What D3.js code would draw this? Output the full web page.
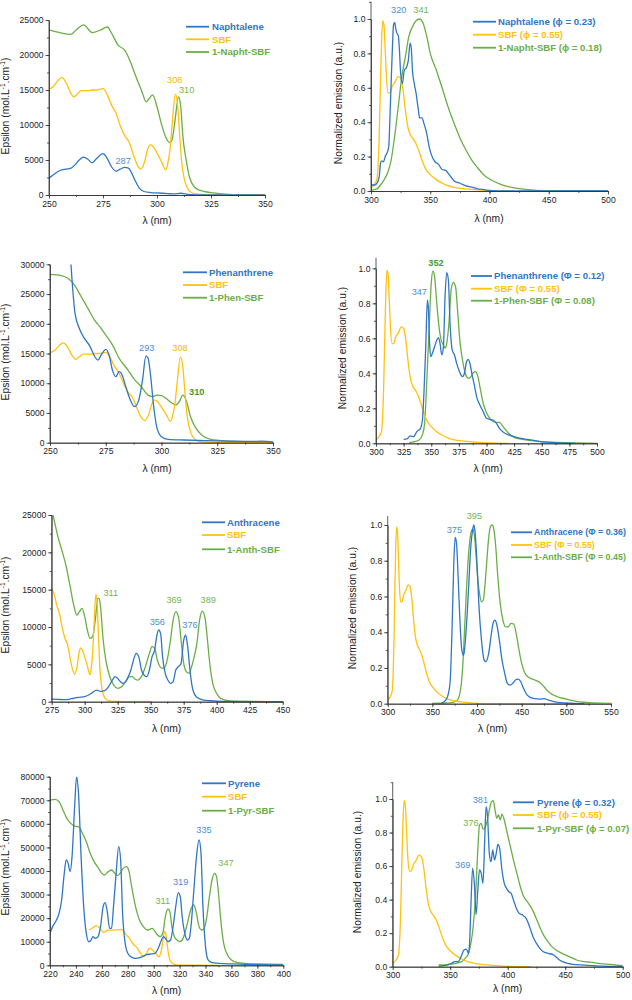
<!DOCTYPE html>
<html>
<head>
<meta charset="utf-8">
<script src="https://cdn.jsdelivr.net/npm/d3@7"></script>
<style>
  body { margin: 0; background: #fff; }
  svg { display: block; font-family: "Liberation Sans", Arial, sans-serif; }
  .tick text { font-size: 8.6px; fill: #222; }
  .tick line, .domain { stroke: #333; stroke-width: 0.8; }
</style>
</head>
<body>
<svg width="632" height="1000"></svg>
<script>
const BLUE = "#2f77c6", YELLOW = "#ffc20e", GREEN = "#6aae47", DKGREEN = "#3f9a2a";

// ---- absorption (epsilon) and normalized emission, [lambda nm, value] ----
const sbfAbs = [[250,15100],[252,15500],[254,16300],[256,16800],[258,16000],[260,14600],[261.5,14000],[263,14400],[265,14900],[268,14900],[270,15000],[272,15000],[275,15200],[277,14300],[279,12800],[281,11700],[283,9900],[285,8500],[287,7600],[289,5800],[291,4200],[292.5,3700],[294,4500],[296,6800],[297,7200],[298.5,6800],[300,6000],[302,4800],[304,3600],[305,4500],[306,6500],[307,10000],[308.5,14400],[309.5,13000],[310.5,8500],[311.5,4500],[312.5,2500],[314,1000],[316,350],[318,150],[320,80],[330,20],[350,0]];
const sbfEm = [[300,0.02],[303,0.04],[305,0.07],[306,0.15],[307,0.34],[308,0.63],[309,0.88],[310,0.99],[311,0.96],[312,0.82],[313,0.67],[314.5,0.57],[316,0.57],[318,0.61],[320,0.63],[323,0.665],[325,0.655],[327,0.59],[329,0.47],[331,0.375],[333,0.33],[336,0.30],[338,0.275],[340,0.24],[343,0.18],[346,0.13],[350,0.095],[355,0.066],[360,0.046],[365,0.031],[370,0.021],[380,0.012],[390,0.006],[400,0.002],[420,0],[550,0]];

const naphAbs = [[250,2400],[252,2900],[255,3500],[258,3700],[260,3800],[262,4300],[264,5000],[266,5400],[268,5100],[270,4600],[272,5200],[275,5900],[277,5200],[279,4000],[281,3400],[283,3700],[285,3950],[287,3800],[288,3300],[290,2000],[292,900],[294,500],[297,350],[300,300],[305,200],[308,150],[311,250],[313,150],[316,50],[320,0],[350,0]];
const naphSbfAbs = [[250,23600],[255,23200],[260,22950],[263,23700],[266,24300],[270,23200],[274,23600],[277,24000],[279,23100],[282,21400],[285,20700],[288,18800],[290,17100],[293,14800],[295,13300],[296,13600],[298,14300],[300,12600],[302,10200],[304,8300],[306,7500],[307,7900],[308,9800],[310,14000],[311,12600],[312,8300],[313.5,5000],[315,2600],[318,950],[322,500],[325,330],[330,150],[340,0],[350,0]];
const naphEm = [[300,0.035],[303,0.035],[305,0.045],[307,0.085],[308,0.16],[309,0.175],[310.5,0.17],[312,0.2],[314,0.23],[315,0.26],[316,0.43],[317,0.63],[318,0.82],[319,0.965],[320,0.98],[321,0.94],[322,0.915],[323,0.905],[324,0.82],[325,0.685],[326.5,0.625],[328,0.70],[330,0.72],[331.5,0.76],[333,0.86],[334,0.83],[335,0.70],[336.5,0.625],[338,0.57],[340,0.47],[341,0.425],[343,0.425],[345,0.385],[347,0.335],[349,0.26],[351,0.21],[354,0.17],[357,0.155],[360,0.125],[363,0.12],[366,0.095],[370,0.06],[375,0.045],[380,0.03],[385,0.023],[390,0.013],[395,0.008],[400,0.004],[410,0],[500,0]];
const naphSbfEm = [[300,0.004],[305,0.012],[308,0.035],[311,0.065],[314,0.105],[317,0.18],[320,0.32],[323,0.49],[326,0.665],[329,0.78],[332,0.9],[335,0.955],[338,0.99],[341,1.0],[344,0.975],[347,0.9],[350,0.80],[355,0.705],[360,0.60],[365,0.49],[370,0.395],[375,0.31],[380,0.24],[385,0.18],[390,0.135],[395,0.095],[400,0.07],[410,0.037],[420,0.019],[430,0.01],[440,0.004],[450,0.002],[500,0]];

const phenAbs = [[259.4,30000],[261.2,21800],[263.4,19000],[265,17800],[268,16150],[270,14500],[271.5,13900],[273,14750],[275,15700],[276.5,14750],[278,12200],[279.5,11100],[281,11950],[282,11650],[284,9400],[286,7200],[288,6050],[290,7450],[291.5,10550],[293,14600],[294,14200],[295,11650],[296.5,6050],[298,2400],[300,1000],[303,560],[310,450],[320,340],[330,280],[340,220],[345,250],[350,100]];
const phenSbfAbs = [[250,28300],[255,28100],[258,27650],[261,26500],[264,24550],[267,22600],[270,20600],[273,19200],[275,18100],[278,16450],[281,14200],[285,12200],[288,10550],[291,9400],[294,8000],[296,7750],[298,8000],[300,7900],[302,7450],[305,6600],[306.5,6350],[308,6900],[309.5,8000],[311,7200],[313,4400],[315,2700],[318,1300],[322,560],[330,280],[340,170],[350,100]];
const phenEm = [[325,0.023],[328,0.025],[331,0.042],[334,0.038],[337,0.067],[340,0.082],[342,0.133],[343.5,0.305],[345,0.55],[346.5,0.82],[347.5,0.76],[348.5,0.57],[349.5,0.495],[351,0.514],[353,0.552],[355,0.59],[356.5,0.604],[358,0.57],[359.5,0.505],[361,0.552],[362.5,0.838],[364,0.975],[365.5,0.933],[367,0.686],[369,0.533],[371,0.505],[373,0.457],[375,0.419],[377,0.39],[378.5,0.381],[380,0.40],[382,0.467],[383.5,0.48],[385,0.457],[387,0.39],[389,0.333],[391,0.267],[394,0.219],[397,0.181],[400,0.143],[403,0.137],[406,0.133],[409,0.114],[412,0.082],[415,0.065],[420,0.048],[425,0.038],[430,0.029],[440,0.019],[450,0.008],[460,0.004],[480,0]];
const phenSbfEm = [[330,0.004],[335,0.01],[339,0.019],[342,0.048],[344,0.114],[346,0.362],[348,0.648],[350,0.914],[351.5,0.985],[353,0.952],[355,0.80],[357,0.667],[359,0.59],[361,0.562],[362.5,0.543],[364,0.571],[366,0.686],[368,0.876],[370,0.92],[372,0.895],[374,0.743],[376,0.581],[378,0.486],[380,0.419],[382,0.381],[384,0.371],[386,0.381],[388,0.404],[390,0.41],[392,0.387],[394,0.324],[397,0.229],[400,0.175],[403,0.143],[406,0.124],[409,0.12],[412,0.118],[415,0.095],[420,0.057],[425,0.034],[430,0.025],[440,0.015],[450,0.01],[460,0.006],[480,0.002],[500,0]];

const anthAbs = [[275,360],[280,310],[285,270],[290,400],[295,580],[300,670],[303,890],[306,1250],[309,1560],[312,1380],[315,1470],[318,2000],[321,2900],[323,3350],[325,3100],[327,2700],[329,2450],[331,2700],[333,3350],[335,4250],[337,5600],[339,6470],[341,6000],[343,4250],[345,3570],[347,3350],[349,4250],[351,6000],[353,6900],[354.5,8700],[356,9600],[357.5,9150],[359,6000],[361,3800],[363,2900],[365,2450],[367,2700],[369,4250],[371,4700],[373,5130],[375,8260],[376.5,8900],[378,7370],[380,3800],[382,1560],[385,580],[390,220],[395,130],[400,90],[410,40],[450,0]];
const anthSbfAbs = [[276,25000],[278,23400],[280,21900],[283,20100],[286,18100],[289,15400],[292,12700],[294,11600],[296,12050],[298,12500],[300,11400],[302,9600],[304,8480],[306,8700],[308,10900],[310,13840],[311,13840],[312,12700],[314,8260],[316,5580],[319,3350],[322,2230],[325,1790],[328,2000],[331,2700],[334,3350],[336,3350],[338,3040],[340,2900],[343,3350],[346,4700],[349,6470],[351,7370],[353,7140],[355,5580],[357,4700],[359,4460],[361,4700],[363,6030],[365,8260],[367,10900],[369,12050],[371,11400],[373,8260],[375,5130],[377,4020],[379,3800],[381,4700],[383,6030],[385,7800],[387,10900],[389,12140],[391,11400],[393,8260],[395,4700],[397,2450],[400,1100],[403,450],[407,220],[412,90],[450,0]];
const anthEm = [[360,0.002],[365,0.02],[368,0.058],[370,0.13],[372,0.41],[374,0.785],[375.5,0.93],[377,0.90],[379,0.69],[381,0.45],[383,0.30],[385,0.27],[387,0.356],[389,0.505],[391,0.69],[393,0.877],[395,0.97],[396.5,1.0],[398,0.95],[400,0.785],[402,0.56],[405,0.356],[408,0.244],[410,0.235],[413,0.28],[416,0.39],[418,0.45],[420,0.468],[422,0.446],[425,0.356],[428,0.244],[431,0.17],[434,0.114],[437,0.104],[440,0.114],[443,0.132],[446,0.138],[449,0.123],[452,0.086],[456,0.049],[460,0.034],[465,0.028],[470,0.026],[475,0.028],[480,0.02],[485,0.013],[490,0.008],[500,0.004],[520,0]];
const anthSbfEm = [[350,0.002],[365,0.004],[372,0.006],[378,0.02],[382,0.095],[384,0.207],[386,0.41],[388,0.62],[390,0.80],[392,0.916],[394,0.97],[395.5,0.978],[397,0.944],[399,0.823],[401,0.69],[403,0.61],[405,0.57],[407,0.58],[409,0.67],[411,0.80],[413,0.925],[415,0.99],[417,1.0],[419,0.97],[421,0.877],[423,0.73],[426,0.56],[429,0.468],[432,0.43],[435,0.43],[438,0.45],[441,0.446],[444,0.39],[447,0.30],[450,0.226],[455,0.16],[460,0.142],[465,0.132],[470,0.12],[475,0.095],[480,0.067],[490,0.039],[500,0.026],[510,0.015],[520,0.008],[530,0.004],[550,0.002]];

const pyrAbs = [[220,13570],[222,16400],[225,19200],[227,22050],[229,27700],[231,39000],[232.5,44700],[234,43250],[235.5,39700],[237,46000],[239,67150],[240.5,80000],[242,72900],[244,46000],[246,24900],[248,13570],[250,10000],[252,11000],[253,12150],[255,11450],[257,12150],[259,16400],[261,24900],[262.5,26570],[264,23460],[266,15700],[267.5,15700],[269,24900],[271,39000],[273,50300],[274.5,44660],[276,22050],[278,9330],[280,5090],[283,3390],[286,2970],[290,3390],[294,4380],[298,4800],[301,5090],[304,7900],[306,10740],[307.5,12150],[309,11450],[311,10040],[313,10740],[315,16400],[317,24900],[319,30800],[320.5,29100],[322,20600],[324,13570],[326,10740],[327.5,11450],[329,17800],[331,31940],[333,46000],[335,53140],[336.5,47500],[338,24900],[340,7900],[342,2260],[345,1130],[350,850],[360,570],[370,420],[380,280],[400,140]];
const pyrSbfAbs = [[220,70100],[224,70400],[227,69400],[230,65900],[233,62330],[236,60200],[239,59080],[242,58800],[245,56000],[248,52440],[251,47500],[254,43960],[257,41550],[260,39000],[262,38300],[265,39720],[267.5,40420],[270,39000],[272,38020],[274,39000],[276.5,41130],[279,41840],[281,39720],[283,33360],[286,24880],[289,19220],[292,16400],[295,14980],[297,15270],[299,15690],[301,14280],[303,12860],[305,12150],[307,13570],[309,20640],[311,23890],[312.5,22760],[314,16400],[316,12150],[318,10740],[320,10040],[322,10740],[324,13570],[326,17800],[328.5,23460],[331,25580],[333,22050],[335,16400],[337,14980],[339,15690],[341,20640],[343,29120],[345,36180],[347,39000],[348.5,37600],[350,30530],[352,17810],[354,9330],[357,4380],[360,2260],[365,1130],[370,850],[380,565],[400,420]];
const pyrEm = [[340,0.004],[345,0.006],[350,0.016],[354,0.03],[357,0.03],[360,0.07],[362,0.1],[364,0.105],[366,0.08],[367,0.16],[368,0.36],[369.5,0.587],[371,0.497],[372.5,0.31],[374,0.457],[375.5,0.577],[377,0.557],[378.5,0.497],[380,0.755],[381.2,0.954],[382.5,0.895],[384,0.676],[385.5,0.626],[387,0.696],[388.5,0.636],[390,0.676],[391.5,0.73],[393,0.706],[395,0.577],[397,0.497],[399,0.467],[401,0.447],[403,0.437],[405,0.398],[407,0.358],[410,0.318],[413,0.308],[416,0.288],[419,0.239],[422,0.179],[425,0.139],[428,0.109],[431,0.089],[435,0.08],[440,0.07],[445,0.04],[450,0.024],[455,0.016],[460,0.012],[470,0.008],[480,0.004],[500,0.002]];
const pyrSbfEm = [[340,0.01],[345,0.01],[350,0.016],[355,0.02],[360,0.03],[363,0.05],[366,0.08],[368,0.14],[370,0.24],[372,0.417],[374,0.696],[375.5,0.845],[377,0.855],[378.5,0.82],[380,0.825],[382,0.865],[384,0.934],[386,0.984],[387.5,0.99],[389,0.934],[390.5,0.885],[392,0.905],[393.5,0.875],[395,0.91],[397,0.875],[399,0.815],[401,0.755],[403,0.696],[405,0.636],[408,0.557],[411,0.477],[414,0.417],[417,0.388],[420,0.358],[423,0.318],[426,0.268],[429,0.219],[432,0.179],[435,0.149],[438,0.123],[442,0.1],[446,0.084],[450,0.07],[455,0.056],[460,0.04],[465,0.032],[470,0.028],[475,0.024],[480,0.018],[490,0.014],[495,0.01],[500,0.006]];

const naphLegend = ["Naphtalene", "SBF", "1-Napht-SBF"];
const naphEmLegend = ["Naphtalene (\u03D5 = 0.23)", "SBF (\u03D5 = 0.55)", "1-Napht-SBF (\u03D5 = 0.18)"];
const phenLegend = ["Phenanthrene", "SBF", "1-Phen-SBF"];
const phenEmLegend = ["Phenanthrene (\u03A6 = 0.12)", "SBF (\u03A6 = 0.55)", "1-Phen-SBF (\u03A6 = 0.08)"];
const anthLegend = ["Anthracene", "SBF", "1-Anth-SBF"];
const anthEmLegend = ["Anthracene (\u03A6 = 0.36)", "SBF (\u03A6 = 0.55)", "1-Anth-SBF (\u03A6 = 0.45)"];
const pyrLegend = ["Pyrene", "SBF", "1-Pyr-SBF"];
const pyrEmLegend = ["Pyrene (\u03D5 = 0.32)", "SBF (\u03D5 = 0.55)", "1-Pyr-SBF (\u03D5 = 0.07)"];

const svg = d3.select("svg");
const colors = [BLUE, YELLOW, GREEN];

function drawPanel(p) {
  const x = d3.scaleLinear().domain(p.xDomain).range(p.xRange);
  const y = d3.scaleLinear().domain([0, p.yRef]).range(p.yRange);
  const yTop = y(p.yMax);
  const g = svg.append("g");

  const clipId = "clip" + Math.round(p.xRange[0]) + "_" + Math.round(p.yRange[0]);
  g.append("clipPath").attr("id", clipId).append("rect")
    .attr("x", p.xRange[0]).attr("y", yTop)
    .attr("width", p.xRange[1] - p.xRange[0]).attr("height", p.yRange[0] - yTop + 1);

  const line = d3.line().x(d => x(d[0])).y(d => y(d[1])).curve(d3.curveMonotoneX);
  const curves = g.append("g").attr("clip-path", `url(#${clipId})`);
  // draw green, yellow, blue
  [2, 1, 0].forEach(i => {
    const data = p.series[i].filter(d => d[0] >= p.xDomain[0] - 2 && d[0] <= p.xDomain[1] + 2);
    curves.append("path").datum(data)
      .attr("fill", "none").attr("stroke", colors[i]).attr("stroke-width", 1.3)
      .attr("stroke-linejoin", "round").attr("d", line);
  });

  // minor ticks
  const xMinor = d3.range(p.xDomain[0], p.xDomain[1] + 0.001, p.xMinor);
  const yMinor = d3.range(0, p.yMax + 1e-6, p.yMinor);
  g.append("g").attr("transform", `translate(0,${p.yRange[0]})`)
    .call(d3.axisBottom(x).tickValues(xMinor).tickSize(2).tickSizeOuter(0).tickFormat(""));
  g.append("g").attr("transform", `translate(${p.xRange[0]},0)`)
    .call(d3.axisLeft(y).tickValues(yMinor).tickSize(2).tickSizeOuter(0).tickFormat(""));
  // major ticks
  g.append("g").attr("transform", `translate(0,${p.yRange[0]})`)
    .call(d3.axisBottom(x).tickValues(d3.range(p.xDomain[0], p.xDomain[1] + 0.001, p.xMajor))
      .tickSize(3.5).tickSizeOuter(0).tickPadding(2).tickFormat(d3.format("d")));
  const yAx = d3.axisLeft(y).tickValues(d3.range(0, p.yRef + 1e-6, p.yMajor))
      .tickSize(3.5).tickSizeOuter(0).tickPadding(2).tickFormat(d3.format(p.yFmt));
  const ya = g.append("g").attr("transform", `translate(${p.xRange[0]},0)`).call(yAx);
  ya.select(".domain").attr("d", `M-0,${p.yRange[0]}V${yTop}`);

  // axis titles
  g.append("text").attr("x", p.xTitle[0]).attr("y", p.xTitle[1])
    .attr("text-anchor", "middle").attr("font-size", 10.3).attr("fill", "#222")
    .text(p.xTitleText);
  const yt = g.append("text")
    .attr("transform", `translate(${p.yTitle[0]},${p.yTitle[1]}) rotate(-90)`)
    .attr("text-anchor", "middle").attr("font-size", 10.3).attr("fill", "#222");
  if (p.epsilon) {
    yt.append("tspan").text("Epsilon (mol.L");
    yt.append("tspan").attr("dy", -4).attr("font-size", 6.5).text("-1");
    yt.append("tspan").attr("dy", 4).text(".cm");
    yt.append("tspan").attr("dy", -4).attr("font-size", 6.5).text("-1");
    yt.append("tspan").attr("dy", 4).text(")");
  } else {
    yt.text("Normalized emission (a.u.)");
  }

  // legend
  p.legend.forEach((lab, i) => {
    const ly = p.legendPos.ys[i];
    g.append("line").attr("x1", p.legendPos.x1).attr("x2", p.legendPos.x2)
      .attr("y1", ly).attr("y2", ly).attr("stroke", colors[i]).attr("stroke-width", 1.8);
    g.append("text").attr("x", p.legendPos.tx).attr("y", ly).attr("dy", "0.35em")
      .attr("font-size", p.legendPos.fs || 9.6).attr("font-weight", "bold")
      .attr("fill", colors[i]).text(lab);
  });

  // peak labels (data coordinates)
  p.notes.forEach(n => {
    g.append("text").attr("x", x(n.at[0])).attr("y", y(n.at[1])).attr("dy", "0.35em")
      .attr("text-anchor", "middle").attr("font-size", 9.2)
      .attr("font-weight", n.bold ? "bold" : "normal").attr("fill", n.color).text(n.text);
  });
}

const LBLUE = "#4a8fd6", LYELLOW = "#f5b800", LGREEN = "#74b552";

const panels = [
  { xDomain: [250, 350], xRange: [49, 265], xMajor: 25, xMinor: 12.5,
    yRef: 25000, yRange: [195, 20], yMax: 25000, yMajor: 5000, yMinor: 2500, yFmt: "d",
    epsilon: true, yTitle: [9, 106], xTitle: [157, 223.5], xTitleText: "\u03BB (nm)",
    series: [naphAbs, sbfAbs, naphSbfAbs], legend: naphLegend,
    legendPos: { x1: 186, x2: 209, tx: 212, ys: [26.7, 39.3, 52] },
    notes: [{ text: "287", at: [284.3, 4860], color: LBLUE },
            { text: "308", at: [308.2, 16430], color: LYELLOW },
            { text: "310", at: [313.7, 15000], color: LGREEN }] },
  { xDomain: [300, 500], xRange: [371, 608], xMajor: 50, xMinor: 25,
    yRef: 1, yRange: [191, 19], yMax: 1.1, yMajor: 0.2, yMinor: 0.1, yFmt: ".1f",
    epsilon: false, yTitle: [342, 103], xTitle: [489, 221.5], xTitleText: "\u03BB (nm)",
    series: [naphEm, sbfEm, naphSbfEm], legend: naphEmLegend,
    legendPos: { x1: 473, x2: 496, tx: 498, ys: [21.7, 34.7, 47.7] },
    notes: [{ text: "320", at: [323.4, 1.052], color: LBLUE },
            { text: "341", at: [342.2, 1.052], color: LGREEN }] },
  { xDomain: [250, 350], xRange: [50, 273], xMajor: 25, xMinor: 12.5,
    yRef: 30000, yRange: [442.7, 264.3], yMax: 30000, yMajor: 5000, yMinor: 2500, yFmt: "d",
    epsilon: true, yTitle: [9, 352], xTitle: [157, 472], xTitleText: "\u03BB (nm)",
    series: [phenAbs, sbfAbs, phenSbfAbs], legend: phenLegend,
    legendPos: { x1: 183, x2: 207, tx: 209, ys: [272.3, 285, 297.7] },
    notes: [{ text: "293", at: [293.4, 15975], color: LBLUE },
            { text: "308", at: [308.3, 15975], color: LYELLOW },
            { text: "310", at: [315.8, 8576], color: DKGREEN, bold: true }] },
  { xDomain: [300, 500], xRange: [376, 597], xMajor: 25, xMinor: 12.5,
    yRef: 1, yRange: [443.3, 268.3], yMax: 1.06, yMajor: 0.2, yMinor: 0.1, yFmt: ".1f",
    epsilon: false, yTitle: [346, 348], xTitle: [488, 472], xTitleText: "\u03BB (nm)",
    series: [phenEm, sbfEm, phenSbfEm], legend: phenEmLegend,
    legendPos: { x1: 471, x2: 492, tx: 494, ys: [276, 288.7, 300.7] },
    notes: [{ text: "347", at: [339.2, 0.866], color: LBLUE },
            { text: "352", at: [354.3, 1.029], color: DKGREEN, bold: true }] },
  { xDomain: [275, 450], xRange: [51.7, 282.7], xMajor: 25, xMinor: 12.5,
    yRef: 25000, yRange: [701.7, 515], yMax: 25000, yMajor: 5000, yMinor: 2500, yFmt: "d",
    epsilon: true, yTitle: [9, 605], xTitle: [166.7, 731.5], xTitleText: "\u03BB  (nm)",
    series: [anthAbs, sbfAbs, anthSbfAbs], legend: anthLegend,
    legendPos: { x1: 202, x2: 225, tx: 227, ys: [522.3, 535, 549.3] },
    notes: [{ text: "311", at: [319.7, 14650], color: LGREEN },
            { text: "369", at: [367.7, 13620], color: LGREEN },
            { text: "389", at: [393.6, 13620], color: LGREEN },
            { text: "356", at: [355, 10710], color: LBLUE },
            { text: "376", at: [379.8, 10360], color: LBLUE }] },
  { xDomain: [300, 550], xRange: [387.7, 611], xMajor: 50, xMinor: 25,
    yRef: 1, yRange: [703.7, 525], yMax: 1.05, yMajor: 0.2, yMinor: 0.1, yFmt: ".1f",
    epsilon: false, yTitle: [356, 608], xTitle: [492.7, 731.5], xTitleText: "\u03BB (nm)",
    series: [anthEm, sbfEm, anthSbfEm], legend: anthEmLegend,
    legendPos: { x1: 511, x2: 532, tx: 534, ys: [532.3, 545, 557.3], fs: 8.9 },
    notes: [{ text: "375", at: [374.6, 0.972], color: LBLUE },
            { text: "395", at: [397, 1.05], color: LGREEN }] },
  { xDomain: [220, 400], xRange: [50, 283.3], xMajor: 20, xMinor: 10,
    yRef: 80000, yRange: [965.3, 776.7], yMax: 80000, yMajor: 10000, yMinor: 5000, yFmt: "d",
    epsilon: true, yTitle: [9, 867], xTitle: [166.7, 993.5], xTitleText: "\u03BB (nm)",
    series: [pyrAbs, sbfAbs, pyrSbfAbs], legend: pyrLegend,
    legendPos: { x1: 202, x2: 226, tx: 228, ys: [783.3, 796.7, 810.7] },
    notes: [{ text: "311", at: [307, 27400], color: LGREEN },
            { text: "319", at: [320.8, 35460], color: LBLUE },
            { text: "335", at: [338.8, 57390], color: LBLUE },
            { text: "347", at: [355.8, 43520], color: LGREEN }] },
  { xDomain: [300, 500], xRange: [392.7, 622.7], xMajor: 50, xMinor: 25,
    yRef: 1, yRange: [966.7, 799], yMax: 1.1, yMajor: 0.2, yMinor: 0.1, yFmt: ".1f",
    epsilon: false, yTitle: [361, 872], xTitle: [507.7, 991.5], xTitleText: "\u03BB (nm)",
    series: [pyrEm, sbfEm, pyrSbfEm], legend: pyrEmLegend,
    legendPos: { x1: 513, x2: 534, tx: 537, ys: [802.3, 815, 828.3] },
    notes: [{ text: "381", at: [376.2, 0.994], color: LBLUE },
            { text: "376", at: [368.1, 0.859], color: LGREEN },
            { text: "369", at: [360.9, 0.606], color: LBLUE }] }
];

panels.forEach(drawPanel);
</script>
</body>
</html>
